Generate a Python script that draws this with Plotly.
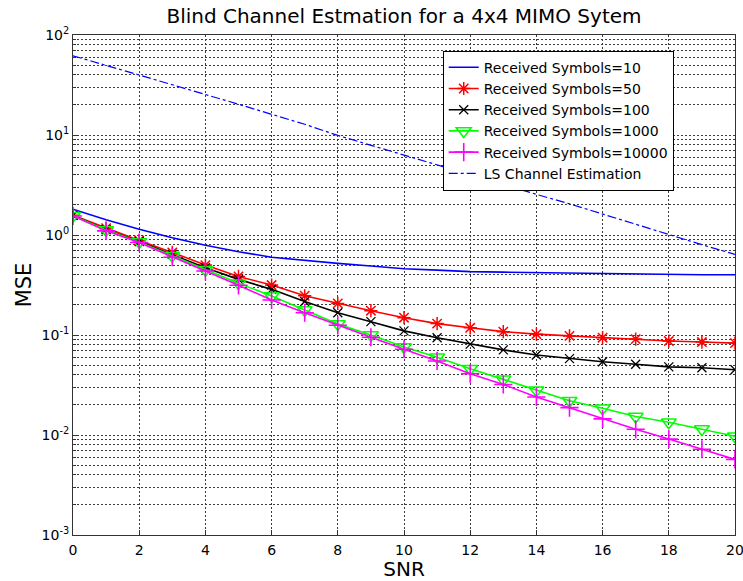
import plotly.graph_objects as go

snr = list(range(0, 21))

mse_10 = [1.81, 1.42, 1.14, 0.94, 0.79, 0.68, 0.60, 0.555, 0.52, 0.49, 0.46,
          0.445, 0.43, 0.425, 0.42, 0.415, 0.41, 0.405, 0.40, 0.40, 0.40]
mse_50 = [1.58, 1.17, 0.88, 0.67, 0.50, 0.385, 0.316, 0.247, 0.207, 0.175, 0.149,
          0.130, 0.118, 0.108, 0.102, 0.098, 0.094, 0.091, 0.087, 0.085, 0.083]
mse_100 = [1.57, 1.13, 0.86, 0.64, 0.47, 0.36, 0.286, 0.216, 0.167, 0.136, 0.110,
           0.094, 0.081, 0.071, 0.063, 0.058, 0.054, 0.051, 0.048, 0.047, 0.045]
mse_1000 = [1.56, 1.12, 0.85, 0.62, 0.45, 0.33, 0.245, 0.178, 0.129, 0.100, 0.076,
            0.060, 0.046, 0.036, 0.028, 0.022, 0.0185, 0.0153, 0.0134, 0.0115, 0.0097]
mse_10000 = [1.55, 1.10, 0.84, 0.60, 0.436, 0.314, 0.224, 0.167, 0.125, 0.095, 0.072,
             0.055, 0.041, 0.032, 0.024, 0.0188, 0.0145, 0.0114, 0.0091, 0.0072, 0.0057]
mse_ls = [62, 50, 39.8, 31.8, 25.5, 20.3, 16.1, 12.8, 9.9, 7.9, 6.2,
          5.0, 4.0, 3.2, 2.55, 2.05, 1.62, 1.28, 1.0, 0.80, 0.64]

names = ["Received Symbols=10", "Received Symbols=50", "Received Symbols=100",
         "Received Symbols=1000", "Received Symbols=10000", "LS Channel Estimation"]

y_tickvals = [1e-3, 1e-2, 1e-1, 1e0, 1e1, 1e2]
y_ticktext = ["10<sup>-3</sup>", "10<sup>-2</sup>", "10<sup>-1</sup>",
              "10<sup>0</sup>", "10<sup>1</sup>", "10<sup>2</sup>"]
x_tickvals = list(range(0, 21, 2))

minor_vals = [m * 10 ** e for e in range(-3, 2) for m in range(2, 10)]

FONT = "DejaVu Sans, Liberation Sans, Arial, sans-serif"

fig = go.Figure()
fig.add_trace(go.Scatter(x=snr, y=mse_10, name=names[0], mode="lines",
                         line=dict(color="#0000FF", width=1.6)))
fig.add_trace(go.Scatter(x=snr, y=mse_50, name=names[1], mode="lines+markers",
                         line=dict(color="#FF0000", width=1.6),
                         marker=dict(symbol="asterisk-open", size=11,
                                     line=dict(color="#FF0000", width=1.5))))
fig.add_trace(go.Scatter(x=snr, y=mse_100, name=names[2], mode="lines+markers",
                         line=dict(color="#000000", width=1.6),
                         marker=dict(symbol="x-thin-open", size=9,
                                     line=dict(color="#000000", width=1.3))))
fig.add_trace(go.Scatter(x=snr, y=mse_1000, name=names[3], mode="lines+markers",
                         line=dict(color="#00FF00", width=1.6),
                         marker=dict(symbol="triangle-down-open", size=13,
                                     color="#00FF00",
                                     line=dict(color="#00FF00", width=1.5))))
fig.add_trace(go.Scatter(x=snr, y=mse_10000, name=names[4], mode="lines+markers",
                         line=dict(color="#FF00FF", width=1.6),
                         marker=dict(symbol="cross-thin-open", size=13,
                                     line=dict(color="#FF00FF", width=1.6))))
fig.add_trace(go.Scatter(x=snr, y=mse_ls, name=names[5], mode="lines",
                         line=dict(color="#0000FF", width=1.2, dash="dashdot")))

grid = dict(gridcolor="#3a3a3a", gridwidth=1, griddash="2px,2px")

fig.update_layout(
    width=743, height=581,
    margin=dict(l=73, r=8, t=35, b=46),
    paper_bgcolor="white", plot_bgcolor="white",
    font=dict(family=FONT, size=14, color="black"),
    title=dict(text="Blind Channel Estmation for a 4x4 MIMO Sytem",
               x=0.5437, xanchor="center", yref="container", y=0.972,
               yanchor="middle", font=dict(size=20)),
    showlegend=True,
    legend=dict(x=0.5585, y=0.9686, xanchor="left", yanchor="top",
                bgcolor="white", bordercolor="black", borderwidth=1,
                font=dict(size=14), itemwidth=30, tracegroupgap=0),
    xaxis=dict(range=[0, 20], tickvals=x_tickvals, showgrid=True, **grid,
               showline=True, mirror=True, linecolor="#333333", linewidth=1,
               ticks="inside", ticklen=5, tickcolor="#333333",
               zeroline=False, tickfont=dict(size=14), automargin=False,
               ticklabeloverflow="allow", ticklabelstandoff=2,
               title=dict(text="SNR", font=dict(size=20), standoff=0)),
    yaxis=dict(type="log", range=[-3, 2], tickvals=y_tickvals, ticktext=y_ticktext,
               showgrid=True, **grid,
               showline=True, mirror=True, linecolor="#333333", linewidth=1,
               ticks="inside", ticklen=5, tickcolor="#333333",
               zeroline=False, tickfont=dict(size=14), automargin=False,
               ticklabeloverflow="allow",
               minor=dict(tickvals=minor_vals, showgrid=True, ticks="inside",
                          ticklen=3, tickcolor="#333333", **grid),
               title=dict(text="MSE", font=dict(size=21), standoff=4)),
)

fig.write_html("out.html", config={"displayModeBar": False},
               post_script="document.body.style.margin='0';")
